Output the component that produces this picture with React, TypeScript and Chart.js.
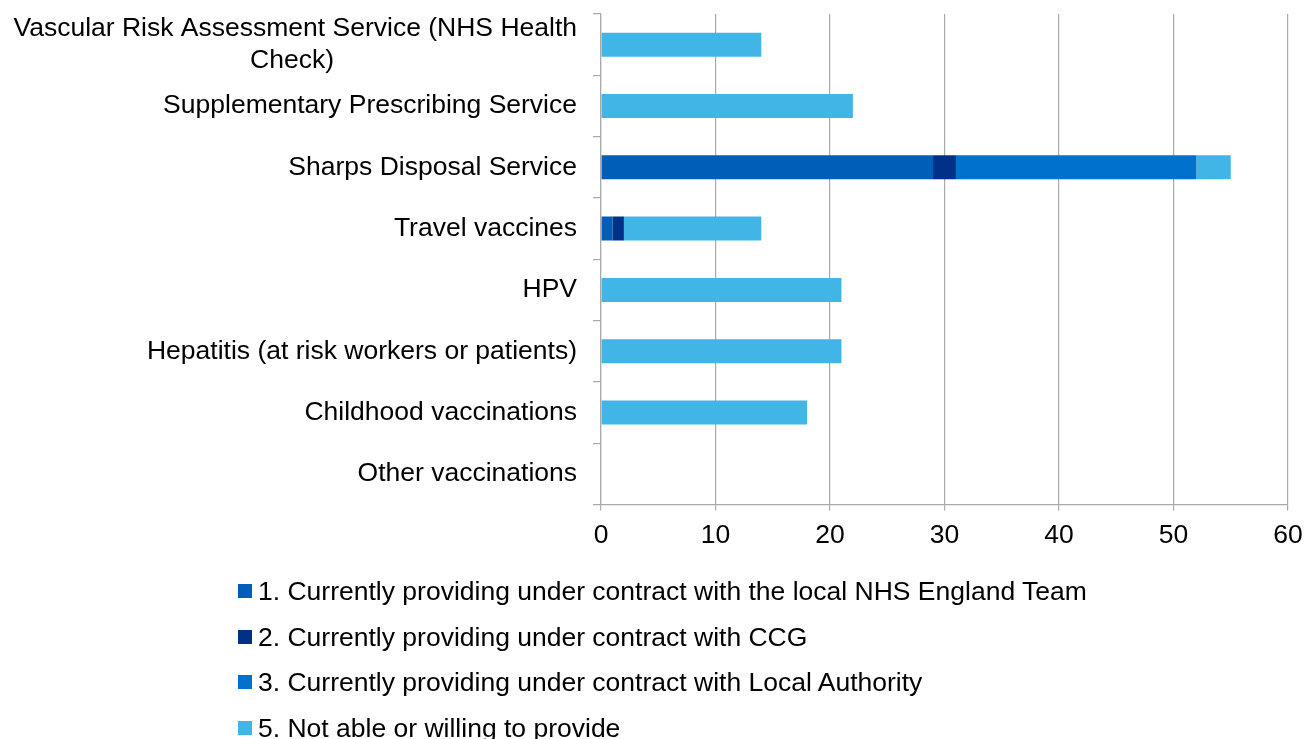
import React, { useEffect, useRef } from "react";
import { Chart, registerables } from "chart.js";

Chart.register(...registerables);

const categories: (string | string[])[] = [
  ["Vascular Risk Assessment Service (NHS Health", "Check)"],
  "Supplementary Prescribing Service",
  "Sharps Disposal Service",
  "Travel vaccines",
  "HPV",
  "Hepatitis (at risk workers or patients)",
  "Childhood vaccinations",
  "Other vaccinations",
];

const seriesNames = [
  "1. Currently providing under contract with the local NHS England Team",
  "2. Currently providing under contract with CCG",
  "3. Currently providing under contract with Local Authority",
  "5. Not able or willing to provide",
];

const nhsEnglandValues = [0, 0, 29, 1, 0, 0, 0, 0];
const ccgValues = [0, 0, 2, 1, 0, 0, 0, 0];
const localAuthorityValues = [0, 0, 21, 0, 0, 0, 0, 0];
const notAbleValues = [14, 22, 3, 12, 21, 21, 18, 0];

const seriesColors = ["#005EB8", "#003087", "#0072CE", "#41B6E6"];

const xTickValues = [0, 10, 20, 30, 40, 50, 60];

const FONT_FAMILY = "'Liberation Sans', Arial, Helvetica, sans-serif";
const FONT_SIZE = 26.5;
const GRID_COLOR = "#a9a9a9";

function centerLines(label: string | string[]): string | string[] {
  if (!Array.isArray(label)) return label;
  const c = document.createElement("canvas").getContext("2d");
  if (!c) return label;
  c.font = `${FONT_SIZE}px ${FONT_FAMILY}`;
  const widths = label.map((l) => c.measureText(l).width);
  const maxW = Math.max(...widths);
  const sp = c.measureText(" ").width;
  return label.map((l, i) => {
    const n = Math.round((maxW - widths[i]) / 2 / sp);
    return l + " ".repeat(Math.max(0, n));
  });
}

export default function App() {
  const canvasRef = useRef<HTMLCanvasElement | null>(null);

  useEffect(() => {
    if (!canvasRef.current) return;
    const values = [nhsEnglandValues, ccgValues, localAuthorityValues, notAbleValues];
    const chart = new Chart(canvasRef.current, {
      type: "bar",
      data: {
        labels: categories.map(centerLines) as any,
        datasets: seriesNames.map((name, i) => ({
          label: name,
          data: values[i],
          backgroundColor: seriesColors[i],
          borderWidth: 0,
          categoryPercentage: 1,
          barPercentage: 0.392,
        })),
      },
      options: {
        indexAxis: "y",
        responsive: false,
        animation: false,
        layout: { padding: { top: 14, right: 17, left: 0, bottom: 0 } },
        plugins: {
          legend: { display: false },
          tooltip: { enabled: false },
          title: { display: false },
        },
        scales: {
          x: {
            stacked: true,
            min: 0,
            max: 60,
            afterBuildTicks: (scale: any) => {
              scale.ticks = xTickValues.map((v) => ({ value: v }));
            },
            afterFit: (scale: any) => {
              scale.height = 234.5;
              scale.paddingLeft = 0;
              scale.paddingRight = 0;
            },
            grid: {
              color: GRID_COLOR,
              lineWidth: 1.2,
              drawTicks: true,
              tickLength: 6,
            },
            border: { display: true, color: GRID_COLOR, width: 1.2 },
            ticks: {
              color: "#000",
              padding: 9.5,
              font: { family: FONT_FAMILY, size: FONT_SIZE, lineHeight: 1.2 },
            },
          },
          y: {
            stacked: true,
            afterFit: (scale: any) => {
              scale.width = 601;
              scale.paddingTop = 0;
              scale.paddingBottom = 0;
            },
            grid: {
              offset: true,
              drawOnChartArea: false,
              drawTicks: true,
              tickLength: 8,
              color: GRID_COLOR,
              lineWidth: 1.2,
            },
            border: { display: true, color: GRID_COLOR, width: 1.2 },
            ticks: {
              color: "#000",
              padding: 16,
              autoSkip: false,
              font: { family: FONT_FAMILY, size: FONT_SIZE, lineHeight: 1.2 },
            },
          },
        },
      },
    });
    return () => chart.destroy();
  }, []);

  return (
    <div style={{ position: "absolute", left: 0, top: 0, width: 1305, height: 739, background: "#fff", overflow: "hidden" }}>
      <canvas ref={canvasRef} width={1305} height={739} style={{ display: "block", position: "absolute", left: 0, top: 0 }} />
      <div style={{ position: "absolute", left: 238, top: 568, fontFamily: FONT_FAMILY, fontSize: FONT_SIZE, color: "#000" }}>
        {seriesNames.map((name, i) => (
          <div key={name} style={{ display: "flex", alignItems: "center", height: 45.7, whiteSpace: "nowrap" }}>
            <span style={{ display: "inline-block", width: 14, height: 14, background: seriesColors[i], marginRight: 6, flex: "none" }} />
            <span style={{ lineHeight: "30px" }}>{name}</span>
          </div>
        ))}
      </div>
    </div>
  );
}
